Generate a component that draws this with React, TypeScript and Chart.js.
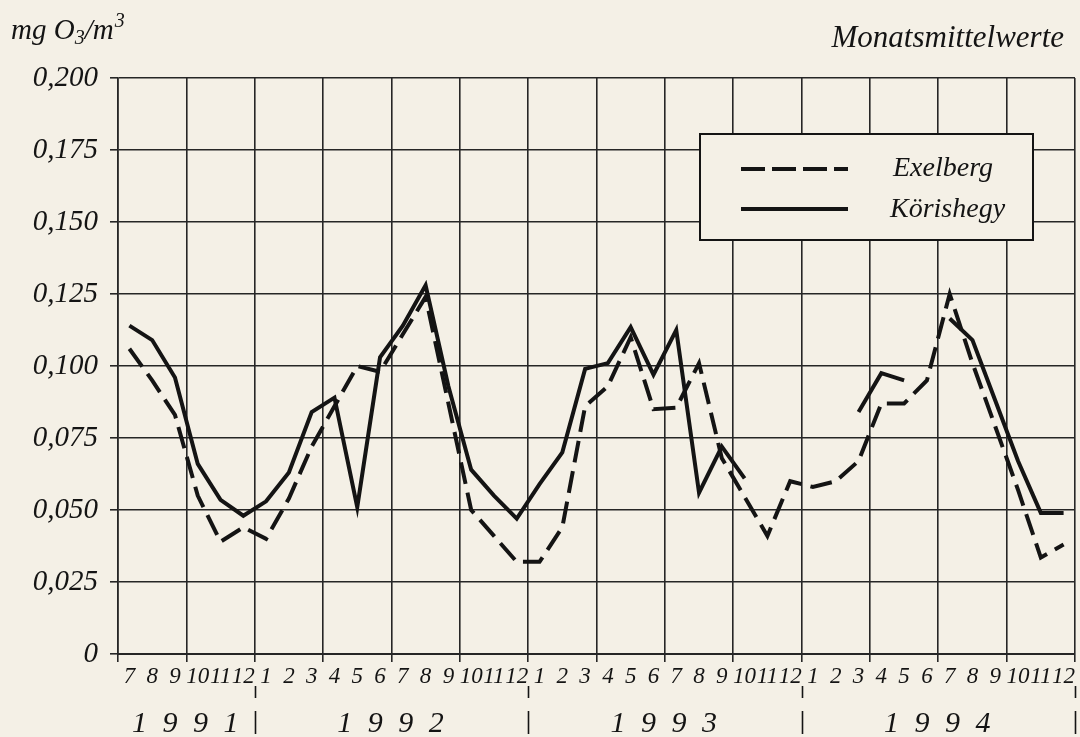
import React, { useEffect, useRef } from 'react';
import { Chart, registerables } from 'chart.js';

Chart.register(...registerables);

// ---- data ----
const monthLabels: string[] = [
  '7', '8', '9', '10', '11', '12',
  '1', '2', '3', '4', '5', '6', '7', '8', '9', '10', '11', '12',
  '1', '2', '3', '4', '5', '6', '7', '8', '9', '10', '11', '12',
  '1', '2', '3', '4', '5', '6', '7', '8', '9', '10', '11', '12',
];

const yearLabels: string[] = ['1991', '1992', '1993', '1994'];

const exelberg: (number | null)[] = [
  0.106, 0.095, 0.083, 0.055, 0.039, 0.044,
  0.040, 0.054, 0.072, 0.086, 0.100, 0.098, 0.111, 0.124, 0.087, 0.050, 0.041, 0.032,
  0.032, 0.044, 0.086, 0.093, 0.110, 0.085, 0.0855, 0.101, 0.068, 0.0545, 0.041, 0.060,
  0.058, 0.060, 0.067, 0.087, 0.087, 0.095, 0.125, 0.101, 0.079, 0.057, 0.0335, 0.038,
];

const koerishegy: (number | null)[] = [
  0.114, 0.109, 0.096, 0.066, 0.0535, 0.048,
  0.053, 0.063, 0.084, 0.089, 0.051, 0.103, 0.114, 0.128, 0.093, 0.064, 0.055, 0.047,
  0.059, 0.070, 0.099, 0.101, 0.1135, 0.097, 0.1125, 0.056, 0.072, 0.061, null, null,
  null, null, 0.084, 0.0975, 0.095, null, 0.1165, 0.109, 0.088, 0.067, 0.049, 0.049,
];

const seriesNames: string[] = ['Exelberg', 'Körishegy'];
const yMin = 0;
const yMax = 0.2;
const yStep = 0.025;

// ---- styles ----
const BG = '#f4f0e6';
const INK = '#141414';
const GRID = '#262626';
const SERIF = '"Liberation Serif", "DejaVu Serif", serif';
const DASH = [22, 9];

const decorPlugin = {
  id: 'decor',
  beforeDraw(chart: any) {
    const { ctx, width, height } = chart;
    ctx.save();
    ctx.fillStyle = BG;
    ctx.fillRect(0, 0, width, height);
    ctx.restore();
  },
  afterDraw(chart: any) {
    const { ctx } = chart;
    const x = chart.scales.x;
    const half = (x.getPixelForValue(1) - x.getPixelForValue(0)) / 2;
    const boundary = (k: number) => x.getPixelForValue(k) - half;

    ctx.save();
    ctx.fillStyle = INK;
    ctx.strokeStyle = INK;

    // year groups from month labels
    const starts: number[] = [];
    monthLabels.forEach((m, i) => {
      if (i === 0 || m === '1') starts.push(i);
    });
    const ends = starts.slice(1).concat([monthLabels.length]);
    ctx.font = `italic 30px ${SERIF}`;
    ctx.textAlign = 'center';
    ctx.textBaseline = 'alphabetic';
    try { (ctx as any).letterSpacing = '4px'; } catch (e) {}
    yearLabels.forEach((yl, j) => {
      const cx = (boundary(starts[j]) + boundary(ends[j])) / 2;
      ctx.fillText(yl.split('').join(' '), cx + 1, 732);
    });
    try { (ctx as any).letterSpacing = '0px'; } catch (e) {}
    // year separators
    ctx.lineWidth = 1.6;
    ends.forEach((e) => {
      const px = Math.round(boundary(e)) + 0.5;
      ctx.beginPath();
      ctx.moveTo(px, 686);
      ctx.lineTo(px, 698);
      ctx.moveTo(px, 711);
      ctx.lineTo(px, 734);
      ctx.stroke();
    });

    // unit title
    let tx = 11;
    const base = 39;
    ctx.textAlign = 'left';
    ctx.font = `italic 29px ${SERIF}`;
    ctx.fillText('mg O', tx, base);
    tx += ctx.measureText('mg O').width;
    ctx.font = `italic 20px ${SERIF}`;
    ctx.fillText('3', tx, base + 5);
    tx += ctx.measureText('3').width;
    ctx.font = `italic 29px ${SERIF}`;
    ctx.fillText('/m', tx, base);
    tx += ctx.measureText('/m').width + 1;
    ctx.font = `italic 20px ${SERIF}`;
    ctx.fillText('3', tx, base - 12);

    // right title
    ctx.font = `italic 31px ${SERIF}`;
    ctx.textAlign = 'right';
    ctx.fillText('Monatsmittelwerte', 1064, 47);

    // legend box
    const lx = 700, ly = 134, lw = 333, lh = 106;
    ctx.fillStyle = BG;
    ctx.fillRect(lx, ly, lw, lh);
    ctx.lineWidth = 2;
    ctx.strokeRect(lx, ly, lw, lh);
    ctx.fillStyle = INK;
    ctx.lineWidth = 4;
    ctx.setLineDash([24, 7]);
    ctx.beginPath();
    ctx.moveTo(741, 169);
    ctx.lineTo(848, 169);
    ctx.stroke();
    ctx.setLineDash([]);
    ctx.beginPath();
    ctx.moveTo(741, 209);
    ctx.lineTo(848, 209);
    ctx.stroke();
    ctx.font = `italic 28px ${SERIF}`;
    ctx.textAlign = 'left';
    ctx.textBaseline = 'middle';
    ctx.fillText(seriesNames[0], 893, 169);
    ctx.fillText(seriesNames[1], 890, 210);
    ctx.restore();
  },
};

export default function App() {
  const ref = useRef<HTMLCanvasElement | null>(null);

  useEffect(() => {
    if (!ref.current) return;
    const gridColor = (c: any) => {
      if (c.index === undefined) return GRID;
      return c.index % 3 === 0 ? GRID : 'rgba(0,0,0,0)';
    };
    const chart = new Chart(ref.current, {
      type: 'line',
      data: {
        labels: monthLabels,
        datasets: [
          {
            label: seriesNames[0],
            data: exelberg,
            borderColor: INK,
            borderWidth: 4,
            borderDash: DASH,
            pointRadius: 0,
            tension: 0,
            spanGaps: false,
            fill: false,
          },
          {
            label: seriesNames[1],
            data: koerishegy,
            borderColor: INK,
            borderWidth: 4,
            pointRadius: 0,
            tension: 0,
            spanGaps: false,
            fill: false,
          },
        ],
      },
      options: {
        responsive: false,
        animation: false,
        devicePixelRatio: 1,
        layout: { padding: { left: 0, top: 78, right: 5, bottom: 0 } },
        plugins: {
          legend: { display: false },
          title: { display: false },
          tooltip: { enabled: false },
        },
        scales: {
          x: {
            type: 'category',
            offset: true,
            afterFit: (s: any) => { s.height = 83; },
            grid: {
              offset: true,
              color: gridColor,
              lineWidth: 1.6,
              tickLength: 8,
              drawTicks: true,
            },
            border: { display: true, color: GRID, width: 2 },
            ticks: {
              autoSkip: false,
              maxRotation: 0,
              minRotation: 0,
              padding: 1,
              color: INK,
              font: { family: SERIF, style: 'italic', size: 23 },
            },
          },
          y: {
            min: yMin,
            max: yMax,
            afterFit: (s: any) => { s.width = 118; },
            grid: { color: GRID, lineWidth: 1.6, tickLength: 8 },
            border: { display: true, color: GRID, width: 1.6 },
            ticks: {
              stepSize: yStep,
              padding: 12,
              color: INK,
              font: { family: SERIF, style: 'italic', size: 29 },
              callback: (v: any) => {
                const n = Math.round(Number(v) * 1000) / 1000;
                return n === 0 ? '0' : n.toFixed(3).replace('.', ',');
              },
            },
          },
        },
      },
      plugins: [decorPlugin],
    } as any);
    return () => chart.destroy();
  }, []);

  return (
    <div style={{ position: 'fixed', left: 0, top: 0, width: 1080, height: 737, background: BG }}>
      <canvas ref={ref} width={1080} height={737} style={{ display: 'block', width: 1080, height: 737 }} />
    </div>
  );
}
